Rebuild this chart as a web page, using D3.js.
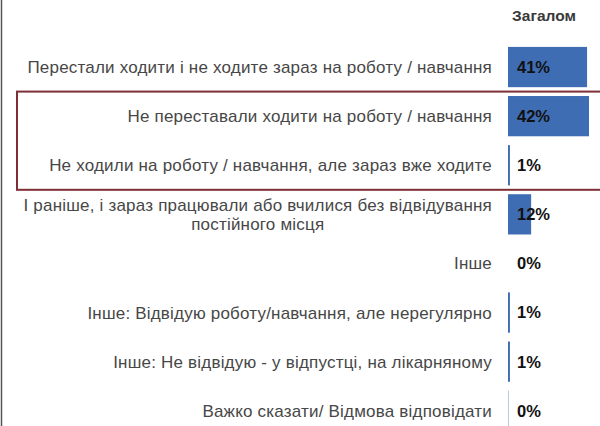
<!DOCTYPE html>
<html>
<head>
<meta charset="utf-8">
<script src="https://cdn.jsdelivr.net/npm/d3@7"></script>
<style>
  body { margin: 0; background: #fff; }
  svg { display: block; font-family: Arial, "Liberation Sans", sans-serif; }
</style>
</head>
<body>
<div id="vis-container"></div>
<script>
// ------------------------------ DATA ------------------------------ //
const categories = [
  "Перестали ходити і не ходите зараз на роботу / навчання",
  "Не переставали ходити на роботу / навчання",
  "Не ходили на роботу / навчання, але зараз вже ходите",
  "І раніше, і зараз працювали або вчилися без відвідування|постійного місця",
  "Інше",
  "Інше: Відвідую роботу/навчання, але нерегулярно",
  "Інше: Не відвідую - у відпустці, на лікарняному",
  "Важко сказати/ Відмова відповідати"
];
const values = [41, 42, 1, 12, 0, 1, 1, 0.4];
const valueLabels = ["41%", "42%", "1%", "12%", "0%", "1%", "1%", "0%"];
const columnTitle = "Загалом";
const highlighted = [categories[1], categories[2]];

// ------------------------------ SET UP ------------------------------ //
const width = 600;
const height = 426;
const barLeft = 508;
const labelRight = 492;
const valueLabelX = 517;

const svg = d3.select("#vis-container")
  .append("svg")
  .attr("width", width)
  .attr("height", height)
  .attr("viewBox", [0, 0, width, height]);

// Scales
const xScale = d3.scaleLinear()
  .domain([0, 42])
  .range([barLeft, 589]);

const yScale = d3.scaleBand()
  .domain(categories)
  .range([42.5, 42.5 + 8 * 49.1])
  .paddingInner(0.18)
  .paddingOuter(0.09);

// Left frame line
svg.append("line")
  .attr("x1", 1.5).attr("x2", 1.5)
  .attr("y1", 0).attr("y2", height)
  .attr("stroke", "#555")
  .attr("stroke-width", 1.5);

// Column title
svg.append("text")
  .attr("x", 544)
  .attr("y", 21)
  .attr("text-anchor", "middle")
  .attr("font-size", "15.5px")
  .attr("font-weight", "bold")
  .attr("fill", "#3a3a3a")
  .text(columnTitle);

// Bars
svg.selectAll(".bar")
  .data(categories)
  .enter()
  .append("rect")
  .attr("class", "bar")
  .attr("x", xScale(0))
  .attr("y", (d) => yScale(d))
  .attr("width", (d, i) => xScale(values[i]) - xScale(0))
  .attr("height", yScale.bandwidth())
  .attr("fill", (d, i) => values[i] < 1 ? "#a9b9d3" : "#3f6db3");

// Category labels (| marks a line break, lines centred on each other)
svg.selectAll(".cat")
  .data(categories)
  .enter()
  .append("text")
  .attr("class", "cat")
  .attr("font-size", "17px")
  .attr("letter-spacing", "0.2px")
  .attr("fill", "#474747")
  .each(function (d) {
    const lines = d.split("|");
    const cy = yScale(d) + yScale.bandwidth() / 2;
    const t = d3.select(this);
    if (lines.length === 1) {
      t.attr("x", labelRight)
        .attr("y", cy)
        .attr("dy", "0.35em")
        .attr("text-anchor", "end")
        .text(d);
    } else {
      const first = t.append("tspan")
        .attr("y", cy - 9.5)
        .attr("dy", "0.35em")
        .attr("text-anchor", "end")
        .attr("x", labelRight)
        .text(lines[0]);
      const w = first.node().getComputedTextLength();
      t.append("tspan")
        .attr("x", labelRight - w / 2)
        .attr("y", cy + 9.5)
        .attr("dy", "0.35em")
        .attr("text-anchor", "middle")
        .text(lines[1]);
    }
  });

// Value labels
svg.selectAll(".val")
  .data(categories)
  .enter()
  .append("text")
  .attr("class", "val")
  .attr("x", valueLabelX)
  .attr("y", (d) => yScale(d) + yScale.bandwidth() / 2)
  .attr("dy", "0.36em")
  .attr("font-size", "16.5px")
  .attr("font-weight", "bold")
  .attr("fill", "#111")
  .text((d, i) => valueLabels[i]);

// Highlight box round the two rows
const step = yScale.step();
const gap = step * yScale.paddingInner() / 2;
const boxTop = yScale(highlighted[0]) - gap;
const boxBottom = yScale(highlighted[1]) + yScale.bandwidth() + gap;
svg.append("rect")
  .attr("x", 17)
  .attr("y", boxTop)
  .attr("width", width)
  .attr("height", boxBottom - boxTop)
  .attr("fill", "none")
  .attr("stroke", "#7d2f35")
  .attr("stroke-width", 2);
</script>
</body>
</html>
